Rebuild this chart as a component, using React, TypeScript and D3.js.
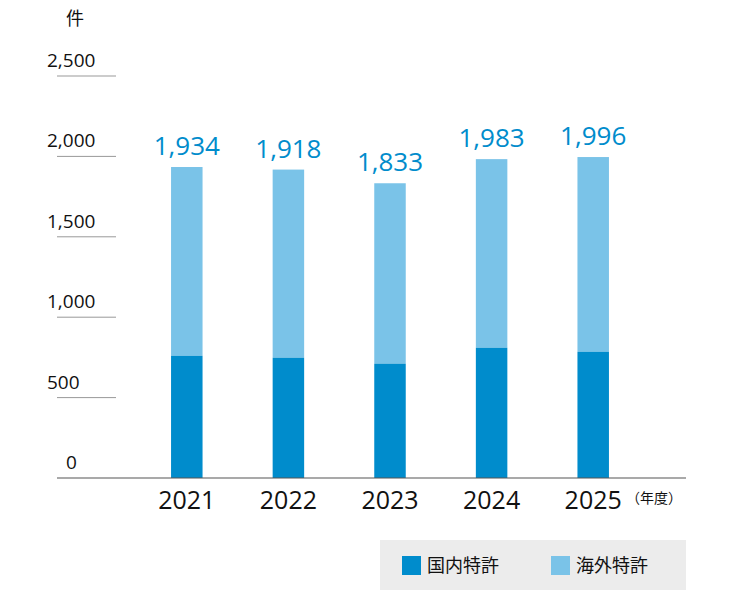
import * as d3 from 'd3';

const years = ['2021', '2022', '2023', '2024', '2025'];
const domestic = [760, 748, 711, 810, 785];
const totals = [1934, 1918, 1833, 1983, 1996];
const yTicks = [0, 500, 1000, 1500, 2000, 2500];

const DARK = '#008ccc';
const LIGHT = '#7ac3e8';
const FONT = '"Noto Sans CJK JP", "Noto Sans", sans-serif';

export default function App() {
  const y = d3.scaleLinear().domain([0, 2500]).range([478, 76]);
  const x = d3.scaleBand().domain(years).range([136, 644]).paddingInner(0.69).paddingOuter(0.345);
  const fmt = d3.format(',');

  return (
    <svg width={740} height={600} style={{ position: 'absolute', left: 0, top: 0, fontFamily: FONT }}>
      <text x={66} y={25} fontSize={18} fill="#111">件</text>
      {yTicks.map(t => (
        <g key={t}>
          {t > 0 && <line x1={57} x2={116} y1={y(t)} y2={y(t)} stroke="#999" strokeWidth={1} />}
          <text x={t === 0 ? 66 : 47} y={y(t) - 9} fontSize={19} fill="#111" fontFamily='"Open Sans", sans-serif'>{fmt(t)}</text>
        </g>
      ))}
      {years.map((yr, i) => {
        const bx = x(yr)!;
        const w = x.bandwidth();
        return (
          <g key={yr}>
            <rect x={bx} y={y(totals[i])} width={w} height={y(domestic[i]) - y(totals[i])} fill={LIGHT} />
            <rect x={bx} y={y(domestic[i])} width={w} height={y(0) - y(domestic[i])} fill={DARK} />
            <text x={bx + w / 2} y={y(totals[i]) - 12} textAnchor="middle" fontSize={26} fill={DARK} fontFamily='"Open Sans", sans-serif'>{fmt(totals[i])}</text>
            <text x={bx + w / 2} y={509} textAnchor="middle" fontSize={25} fill="#111" fontFamily='"Open Sans", sans-serif'>{yr}</text>
          </g>
        );
      })}
      <line x1={57} x2={686} y1={y(0)} y2={y(0)} stroke="#555" strokeWidth={1.2} />
      <text x={626} y={503} fontSize={14} fill="#111">（年度）</text>
      <rect x={380} y={540} width={306} height={50} fill="#ececec" />
      <rect x={402} y={556} width={19} height={19} fill={DARK} />
      <text x={427} y={572} fontSize={18} fill="#111">国内特許</text>
      <rect x={551} y={556} width={19} height={19} fill={LIGHT} />
      <text x={576} y={572} fontSize={18} fill="#111">海外特許</text>
    </svg>
  );
}
